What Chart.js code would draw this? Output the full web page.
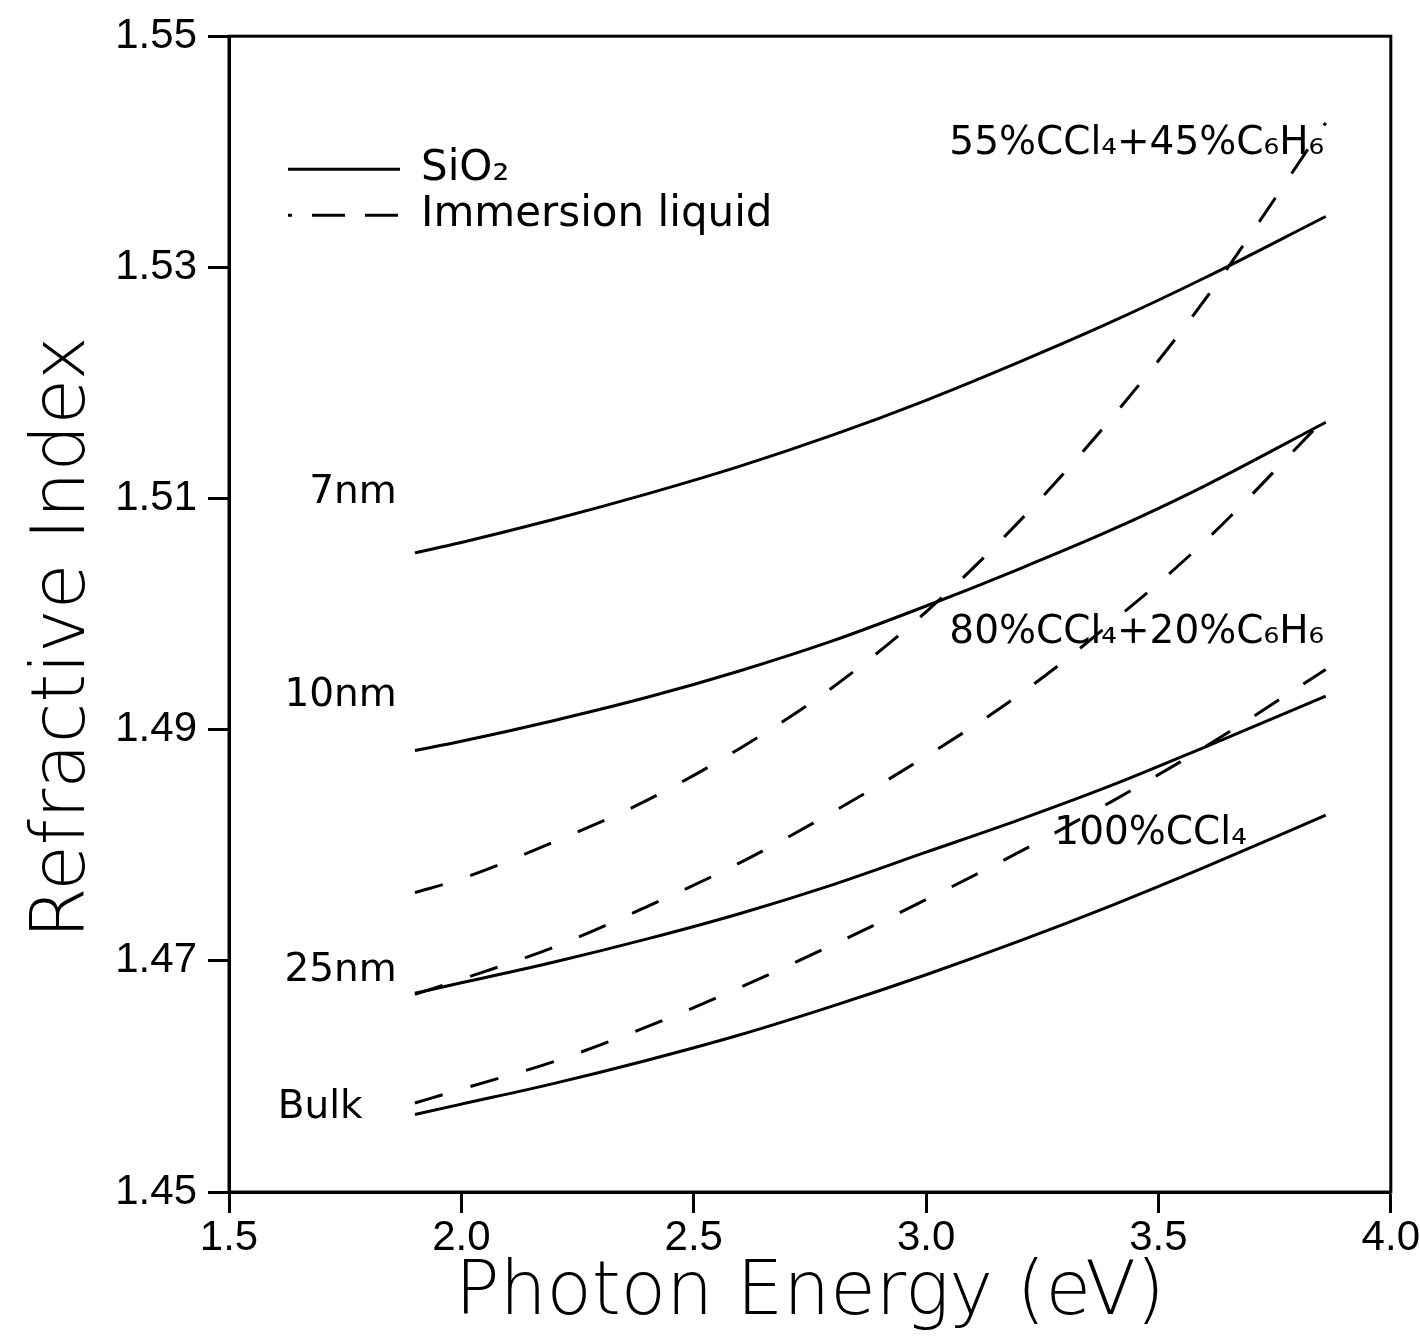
<!DOCTYPE html>
<html>
<head>
<meta charset="utf-8">
<script src="https://cdn.jsdelivr.net/npm/chart.js@4/dist/chart.umd.min.js"></script>
<style>
  html, body { margin: 0; padding: 0; background: #ffffff; }
  #wrap { width: 1420px; height: 1340px; }
</style>
</head>
<body>
<div id="wrap"><canvas id="c" width="1420" height="1340"></canvas></div>
<script>
// Photon energy (eV) sample points
const energy = [1.9, 2.0, 2.2, 2.4, 2.6, 2.8, 3.0, 3.2, 3.4, 3.6, 3.86];

// SiO2 film refractive index (solid curves)
const sio2_7nm  = [1.5053, 1.5062, 1.5082, 1.5104, 1.5128, 1.5155, 1.5185, 1.5218, 1.5253, 1.5291, 1.5344];
const sio2_10nm = [1.4882, 1.4890, 1.4908, 1.4928, 1.4951, 1.4977, 1.5007, 1.5039, 1.5073, 1.5111, 1.5166];
const sio2_25nm = [1.4672, 1.4681, 1.4699, 1.4719, 1.4741, 1.4766, 1.4794, 1.4822, 1.4852, 1.4885, 1.4929];
const sio2_bulk = [1.4567, 1.4576, 1.4594, 1.4614, 1.4636, 1.4661, 1.4688, 1.4717, 1.4748, 1.4781, 1.4826];

// Immersion liquids (dashed curves)
const liq_100ccl4 = [1.4577, 1.4589, 1.4613, 1.4643, 1.4677, 1.4714, 1.4753, 1.4794, 1.4838, 1.4885, 1.4952];
const liq_80ccl4  = [1.4671, 1.4684, 1.4712, 1.4747, 1.4785, 1.4829, 1.4877, 1.4930, 1.4993, 1.5063, 1.5170];
const liq_55ccl4  = [1.4759, 1.4771, 1.4803, 1.4839, 1.4884, 1.4937, 1.5002, 1.5080, 1.5170, 1.5272, 1.5425];

// Axis ranges / ticks
const xTicks = [1.5, 2.0, 2.5, 3.0, 3.5, 4.0];
const yTicks = [1.45, 1.47, 1.49, 1.51, 1.53, 1.55];

// In-plot labels: text, x (eV), y (index), alignment
const labelTexts = ['7nm', '10nm', '25nm', 'Bulk', '55%CCl₄+45%C₆H₆', '80%CCl₄+20%C₆H₆', '100%CCl₄'];
const labelX     = [1.861, 1.861, 1.861, 1.605, 3.050, 3.050, 3.276];
const labelY     = [1.5105, 1.4929, 1.4691, 1.4573, 1.5407, 1.4984, 1.4810];
const labelAlign = ['right', 'right', 'right', 'left', 'left', 'left', 'left'];

const legendTexts = ['SiO₂', 'Immersion liquid'];

const FONT = '"DejaVu Sans", "Liberation Sans", sans-serif';
const TICKFONT = '"Liberation Sans", "DejaVu Sans", sans-serif';

function pts(ys) { return energy.map((x, i) => ({ x: x, y: ys[i] })); }

function lineDs(label, ys, dashed) {
  return {
    label: label,
    data: pts(ys),
    borderColor: '#000',
    backgroundColor: '#000',
    borderWidth: 3,
    borderDash: dashed ? [29, 29] : [],
    pointRadius: 0,
    fill: false,
    cubicInterpolationMode: 'monotone'
  };
}

const framePlugin = {
  id: 'frame',
  afterLayout(chart) {
    const L = chart.legend;
    const ca = chart.chartArea;
    if (!L) return;
    const w = L.width;
    L.left = ca.left + 55;
    L.top = ca.top + 108;
    L.right = L.left + w;
    L.bottom = L.top + 400;
  },
  afterDatasetsDraw(chart) {
    const ctx = chart.ctx;
    const ca = chart.chartArea;
    const xs = chart.scales.x, ys = chart.scales.y;
    ctx.save();
    ctx.strokeStyle = '#000';
    ctx.lineWidth = 3;
    ctx.strokeRect(ca.left, ca.top, ca.right - ca.left, ca.bottom - ca.top);
    ctx.fillStyle = '#000';
    ctx.textBaseline = 'middle';
    ctx.font = '400 39px ' + FONT;
    labelTexts.forEach((t, i) => {
      ctx.textAlign = labelAlign[i];
      ctx.fillText(t, xs.getPixelForValue(labelX[i]), ys.getPixelForValue(labelY[i]));
    });
    ctx.restore();
  }
};

new Chart(document.getElementById('c'), {
  type: 'line',
  data: {
    datasets: [
      lineDs('7nm', sio2_7nm, false),
      lineDs('10nm', sio2_10nm, false),
      lineDs('25nm', sio2_25nm, false),
      lineDs('Bulk', sio2_bulk, false),
      lineDs('100% CCl4', liq_100ccl4, true),
      lineDs('80% CCl4 + 20% C6H6', liq_80ccl4, true),
      lineDs('55% CCl4 + 45% C6H6', liq_55ccl4, true)
    ]
  },
  options: {
    responsive: false,
    animation: false,
    devicePixelRatio: 1,
    layout: { padding: { left: 0, top: 32, right: 28, bottom: 0 }, autoPadding: false },
    plugins: {
      tooltip: { enabled: false },
      legend: {
        display: true,
        position: 'chartArea',
        align: 'start',
        labels: {
          usePointStyle: true,
          pointStyleWidth: 112,
          padding: 4,
          color: '#000',
          font: { family: FONT, size: 42, weight: '400' },
          generateLabels: () => [
            { text: legendTexts[0], fillStyle: '#000', strokeStyle: '#000', fontColor: '#000', lineWidth: 3, lineDash: [], lineDashOffset: 0, pointStyle: 'line', hidden: false, datasetIndex: 0 },
            { text: legendTexts[1], fillStyle: '#000', strokeStyle: '#000', fontColor: '#000', lineWidth: 3, lineDash: [33, 20], lineDashOffset: 29, pointStyle: 'line', hidden: false, datasetIndex: 4 }
          ]
        }
      }
    },
    scales: {
      x: {
        type: 'linear',
        min: xTicks[0],
        max: xTicks[xTicks.length - 1],
        afterFit(s) { s.height = 148; },
        afterBuildTicks(s) { s.ticks = xTicks.map(v => ({ value: v })); },
        ticks: { color: '#000', font: { family: TICKFONT, size: 42 }, padding: 0, maxRotation: 0, callback: v => Number(v).toFixed(1) },
        grid: { display: true, drawOnChartArea: false, drawTicks: true, tickLength: 21, tickWidth: 3, tickColor: '#000' },
        border: { display: true, color: '#000', width: 3 },
        title: { display: true, text: 'Photon Energy (eV)', color: '#000', font: { family: FONT, size: 74, weight: '300' }, padding: { top: 0, bottom: 1 } }
      },
      y: {
        type: 'linear',
        min: yTicks[0],
        max: yTicks[yTicks.length - 1],
        afterFit(s) { s.width = 229; },
        afterBuildTicks(s) { s.ticks = yTicks.map(v => ({ value: v })); },
        ticks: { color: '#000', font: { family: TICKFONT, size: 42 }, padding: 11, callback: v => Number(v).toFixed(2) },
        grid: { display: true, drawOnChartArea: false, drawTicks: true, tickLength: 21, tickWidth: 3, tickColor: '#000' },
        border: { display: true, color: '#000', width: 3 },
        title: { display: true, text: 'Refractive Index  ', color: '#000', font: { family: FONT, size: 74, weight: '300' }, padding: { top: 20, bottom: 0 } }
      }
    }
  },
  plugins: [framePlugin]
});
</script>
</body>
</html>
